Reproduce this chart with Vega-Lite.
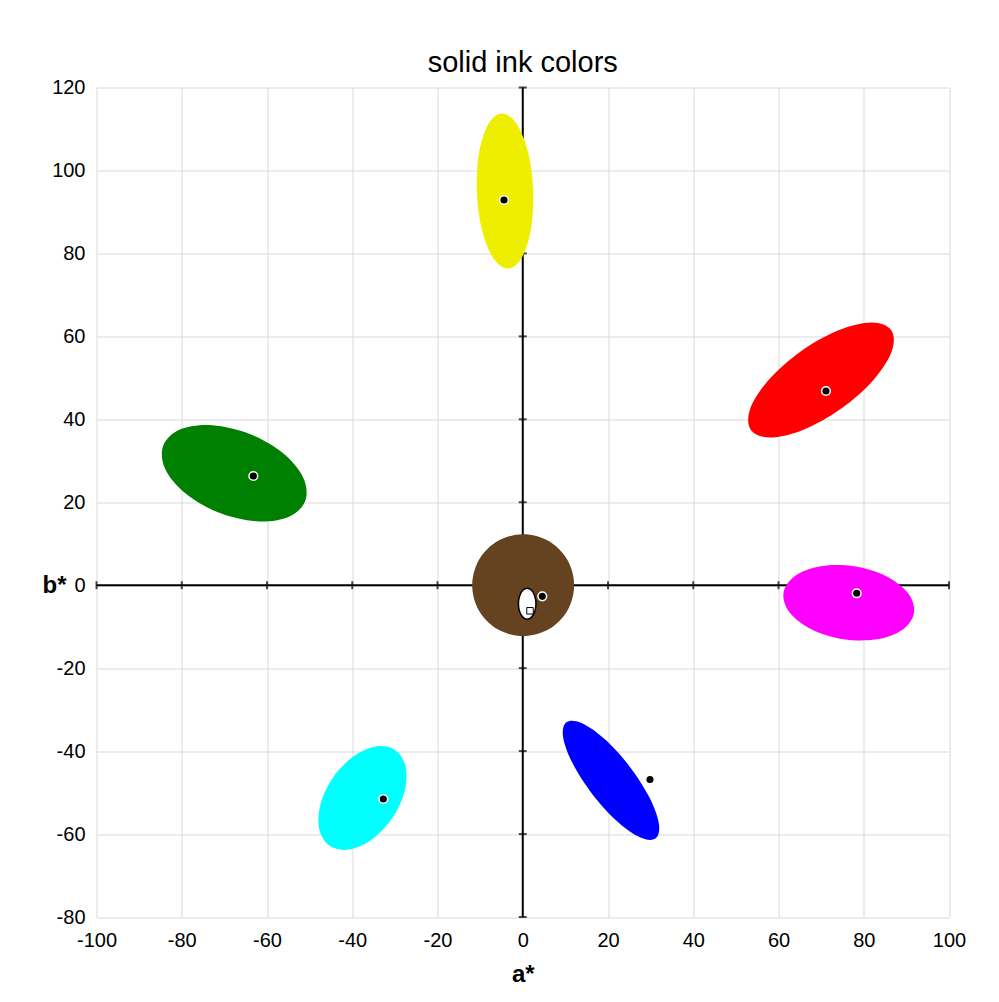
{
  "$schema": "https://vega.github.io/schema/vega-lite/v6.json",
  "width": 852.5,
  "height": 829.5,
  "autosize": {"type": "none"},
  "padding": {"left": 96.5, "top": 87.5, "right": 50, "bottom": 85},
  "background": "white",
  "config": {"view": {"stroke": null}, "font": "Liberation Sans"},
  "title": {"text": "solid ink colors", "fontSize": 29, "fontWeight": "normal", "color": "black", "font": "Liberation Sans", "anchor": "middle", "baseline": "alphabetic", "offset": -23},
  "datasets": {
    "axes0": [
      {"a": 0, "a2": 0, "b": -80, "b2": 120},
      {"a": -100, "a2": 100, "b": 0, "b2": 0}
    ],
    "xticks": [
      {"a": -100, "b": 0}, {"a": -80, "b": 0}, {"a": -60, "b": 0}, {"a": -40, "b": 0}, {"a": -20, "b": 0}, {"a": 0, "b": 0},
      {"a": 20, "b": 0}, {"a": 40, "b": 0}, {"a": 60, "b": 0}, {"a": 80, "b": 0}, {"a": 100, "b": 0}
    ],
    "yticks": [
      {"a": 0, "b": -80}, {"a": 0, "b": -60}, {"a": 0, "b": -40}, {"a": 0, "b": -20}, {"a": 0, "b": 0}, {"a": 0, "b": 20},
      {"a": 0, "b": 40}, {"a": 0, "b": 60}, {"a": 0, "b": 80}, {"a": 0, "b": 100}, {"a": 0, "b": 120}
    ],
    "ellipses": [
      {"ink": "yellow", "i": 0, "a": -4.93, "b": 113.72},
      {"ink": "yellow", "i": 1, "a": -8.13, "b": 111.07},
      {"ink": "yellow", "i": 2, "a": -10.27, "b": 104.14},
      {"ink": "yellow", "i": 3, "a": -10.77, "b": 94.77},
      {"ink": "yellow", "i": 4, "a": -9.51, "b": 85.47},
      {"ink": "yellow", "i": 5, "a": -6.81, "b": 78.74},
      {"ink": "yellow", "i": 6, "a": -3.40, "b": 76.38},
      {"ink": "yellow", "i": 7, "a": -0.20, "b": 79.03},
      {"ink": "yellow", "i": 8, "a": 1.94, "b": 85.96},
      {"ink": "yellow", "i": 9, "a": 2.45, "b": 95.34},
      {"ink": "yellow", "i": 10, "a": 1.18, "b": 104.63},
      {"ink": "yellow", "i": 11, "a": -1.52, "b": 111.36},

      {"ink": "red", "i": 0, "a": 86.41, "b": 61.54},
      {"ink": "red", "i": 1, "a": 81.83, "b": 63.36},
      {"ink": "red", "i": 2, "a": 74.06, "b": 61.46},
      {"ink": "red", "i": 3, "a": 65.20, "b": 56.35},
      {"ink": "red", "i": 4, "a": 57.62, "b": 49.40},
      {"ink": "red", "i": 5, "a": 53.35, "b": 42.48},
      {"ink": "red", "i": 6, "a": 53.53, "b": 37.43},
      {"ink": "red", "i": 7, "a": 58.11, "b": 35.61},
      {"ink": "red", "i": 8, "a": 65.88, "b": 37.50},
      {"ink": "red", "i": 9, "a": 74.74, "b": 42.61},
      {"ink": "red", "i": 10, "a": 82.32, "b": 49.56},
      {"ink": "red", "i": 11, "a": 86.59, "b": 56.48},

      {"ink": "green", "i": 0, "a": -51.07, "b": 20.22},
      {"ink": "green", "i": 1, "a": -51.47, "b": 25.87},
      {"ink": "green", "i": 2, "a": -56.22, "b": 31.81},
      {"ink": "green", "i": 3, "a": -64.04, "b": 36.46},
      {"ink": "green", "i": 4, "a": -72.84, "b": 38.57},
      {"ink": "green", "i": 5, "a": -80.26, "b": 37.58},
      {"ink": "green", "i": 6, "a": -84.31, "b": 33.74},
      {"ink": "green", "i": 7, "a": -83.91, "b": 28.10},
      {"ink": "green", "i": 8, "a": -79.16, "b": 22.15},
      {"ink": "green", "i": 9, "a": -71.34, "b": 17.50},
      {"ink": "green", "i": 10, "a": -62.54, "b": 15.39},
      {"ink": "green", "i": 11, "a": -55.12, "b": 16.38},

      {"ink": "cyan", "i": 0, "a": -29.91, "b": -39.77},
      {"ink": "cyan", "i": 1, "a": -34.42, "b": -38.87},
      {"ink": "cyan", "i": 2, "a": -39.77, "b": -41.31},
      {"ink": "cyan", "i": 3, "a": -44.55, "b": -46.42},
      {"ink": "cyan", "i": 4, "a": -47.46, "b": -52.85},
      {"ink": "cyan", "i": 5, "a": -47.73, "b": -58.86},
      {"ink": "cyan", "i": 6, "a": -45.29, "b": -62.85},
      {"ink": "cyan", "i": 7, "a": -40.78, "b": -63.75},
      {"ink": "cyan", "i": 8, "a": -35.43, "b": -61.32},
      {"ink": "cyan", "i": 9, "a": -30.65, "b": -56.20},
      {"ink": "cyan", "i": 10, "a": -27.74, "b": -49.78},
      {"ink": "cyan", "i": 11, "a": -27.47, "b": -43.76},

      {"ink": "magenta", "i": 0, "a": 91.80, "b": -6.65},
      {"ink": "magenta", "i": 1, "a": 90.40, "b": -1.93},
      {"ink": "magenta", "i": 2, "a": 85.28, "b": 2.17},
      {"ink": "magenta", "i": 3, "a": 77.80, "b": 4.56},
      {"ink": "magenta", "i": 4, "a": 69.97, "b": 4.58},
      {"ink": "magenta", "i": 5, "a": 63.89, "b": 2.24},
      {"ink": "magenta", "i": 6, "a": 61.18, "b": -1.83},
      {"ink": "magenta", "i": 7, "a": 62.58, "b": -6.55},
      {"ink": "magenta", "i": 8, "a": 67.70, "b": -10.65},
      {"ink": "magenta", "i": 9, "a": 75.18, "b": -13.04},
      {"ink": "magenta", "i": 10, "a": 83.01, "b": -13.06},
      {"ink": "magenta", "i": 11, "a": 89.09, "b": -10.72},

      {"ink": "blue", "i": 0, "a": 31.18, "b": -61.02},
      {"ink": "blue", "i": 1, "a": 31.93, "b": -57.44},
      {"ink": "blue", "i": 2, "a": 29.67, "b": -51.08},
      {"ink": "blue", "i": 3, "a": 25.01, "b": -43.63},
      {"ink": "blue", "i": 4, "a": 19.20, "b": -37.09},
      {"ink": "blue", "i": 5, "a": 13.78, "b": -33.22},
      {"ink": "blue", "i": 6, "a": 10.22, "b": -33.06},
      {"ink": "blue", "i": 7, "a": 9.47, "b": -36.64},
      {"ink": "blue", "i": 8, "a": 11.73, "b": -43.00},
      {"ink": "blue", "i": 9, "a": 16.39, "b": -50.45},
      {"ink": "blue", "i": 10, "a": 22.20, "b": -56.99},
      {"ink": "blue", "i": 11, "a": 27.62, "b": -60.86},

      {"ink": "brown", "i": 0, "a": 12.06, "b": 0},
      {"ink": "brown", "i": 1, "a": 10.46, "b": 6.15},
      {"ink": "brown", "i": 2, "a": 6.08, "b": 10.65},
      {"ink": "brown", "i": 3, "a": 0.10, "b": 12.30},
      {"ink": "brown", "i": 4, "a": -5.88, "b": 10.65},
      {"ink": "brown", "i": 5, "a": -10.26, "b": 6.15},
      {"ink": "brown", "i": 6, "a": -11.86, "b": 0},
      {"ink": "brown", "i": 7, "a": -10.26, "b": -6.15},
      {"ink": "brown", "i": 8, "a": -5.88, "b": -10.65},
      {"ink": "brown", "i": 9, "a": 0.10, "b": -12.30},
      {"ink": "brown", "i": 10, "a": 6.08, "b": -10.65},
      {"ink": "brown", "i": 11, "a": 10.46, "b": -6.15}
    ],
    "whiteEllipse": [
      {"i": 0, "a": 3.10, "b": -4.46},
      {"i": 1, "a": 2.82, "b": -2.59},
      {"i": 2, "a": 2.07, "b": -1.22},
      {"i": 3, "a": 1.04, "b": -0.72},
      {"i": 4, "a": 0.01, "b": -1.22},
      {"i": 5, "a": -0.74, "b": -2.59},
      {"i": 6, "a": -1.02, "b": -4.46},
      {"i": 7, "a": -0.74, "b": -6.33},
      {"i": 8, "a": 0.01, "b": -7.70},
      {"i": 9, "a": 1.04, "b": -8.20},
      {"i": 10, "a": 2.07, "b": -7.70},
      {"i": 11, "a": 2.82, "b": -6.33}
    ],
    "square": [
      {"a": 1.70, "b": -6.17}
    ],
    "dots": [
      {"ink": "yellow", "a": -4.40, "b": 92.87},
      {"ink": "red", "a": 71.14, "b": 46.82},
      {"ink": "green", "a": -63.21, "b": 26.33},
      {"ink": "magenta", "a": 78.35, "b": -1.95},
      {"ink": "cyan", "a": -32.71, "b": -51.55},
      {"ink": "blue", "a": 29.85, "b": -46.85},
      {"ink": "brown", "a": 4.59, "b": -2.68}
    ]
  },
  "encoding": {
    "x": {
      "field": "a", "type": "quantitative",
      "scale": {"domain": [-100, 100], "nice": false, "zero": false},
      "axis": {
        "values": [-100, -80, -60, -40, -20, 0, 20, 40, 60, 80, 100],
        "labelExpr": "replace(datum.label, '\u2212', '-')",
        "title": "a*", "titleFontSize": 24, "titleFontWeight": "bold", "titleColor": "black", "titleFont": "Liberation Sans",
        "titleY": 64, "titleBaseline": "alphabetic",
        "labelFontSize": 20, "labelColor": "black", "labelFont": "Liberation Sans", "labelPadding": 13,
        "labelFlush": false, "labelOverlap": false,
        "ticks": false, "tickSize": 0, "domain": false,
        "grid": true, "gridColor": "#d9d9d9", "gridWidth": 1
      }
    },
    "y": {
      "field": "b", "type": "quantitative",
      "scale": {"domain": [-80, 120], "nice": false, "zero": false},
      "axis": {
        "values": [-80, -60, -40, -20, 0, 20, 40, 60, 80, 100, 120],
        "labelExpr": "replace(datum.label, '\u2212', '-')",
        "title": "b*", "titleAngle": 0, "titleX": -42.5, "titleY": 498, "titleAlign": "center", "titleBaseline": "middle",
        "titleFontSize": 24, "titleFontWeight": "bold", "titleColor": "black", "titleFont": "Liberation Sans",
        "labelFontSize": 20, "labelColor": "black", "labelFont": "Liberation Sans", "labelPadding": 11.5,
        "labelFlush": false, "labelOverlap": false,
        "ticks": false, "tickSize": 0, "domain": false,
        "grid": true, "gridColor": "#d9d9d9", "gridWidth": 1
      }
    }
  },
  "layer": [
    {
      "data": {"name": "axes0"},
      "mark": {"type": "rule", "color": "black", "strokeWidth": 2},
      "encoding": {"x2": {"field": "a2"}, "y2": {"field": "b2"}}
    },
    {
      "data": {"name": "xticks"},
      "mark": {"type": "tick", "orient": "vertical", "color": "black", "size": 8, "thickness": 2},
      "encoding": {}
    },
    {
      "data": {"name": "yticks"},
      "mark": {"type": "tick", "orient": "horizontal", "color": "black", "size": 8, "thickness": 2},
      "encoding": {}
    },
    {
      "data": {"name": "ellipses"},
      "mark": {"type": "line", "filled": true, "interpolate": "cardinal-closed", "strokeWidth": 0},
      "encoding": {
        "color": {
          "field": "ink", "type": "nominal", "legend": null,
          "scale": {
            "domain": ["yellow", "red", "green", "cyan", "magenta", "blue", "brown"],
            "range": ["#eeee00", "#ff0000", "#008000", "#00ffff", "#ff00ff", "#0000ff", "#654321"]
          }
        },
        "order": {"field": "i", "type": "quantitative"}
      }
    },
    {
      "data": {"name": "whiteEllipse"},
      "mark": {"type": "line", "interpolate": "cardinal-closed", "fill": "white", "stroke": "black", "strokeWidth": 1.5},
      "encoding": {"order": {"field": "i", "type": "quantitative"}}
    },
    {
      "data": {"name": "square"},
      "mark": {"type": "point", "shape": "square", "filled": true, "fill": "white", "stroke": "black", "strokeWidth": 1, "size": 42, "opacity": 1},
      "encoding": {}
    },
    {
      "data": {"name": "dots"},
      "mark": {"type": "point", "shape": "circle", "filled": true, "fill": "black", "stroke": "white", "strokeWidth": 1.5, "size": 75, "opacity": 1},
      "encoding": {}
    }
  ]
}
